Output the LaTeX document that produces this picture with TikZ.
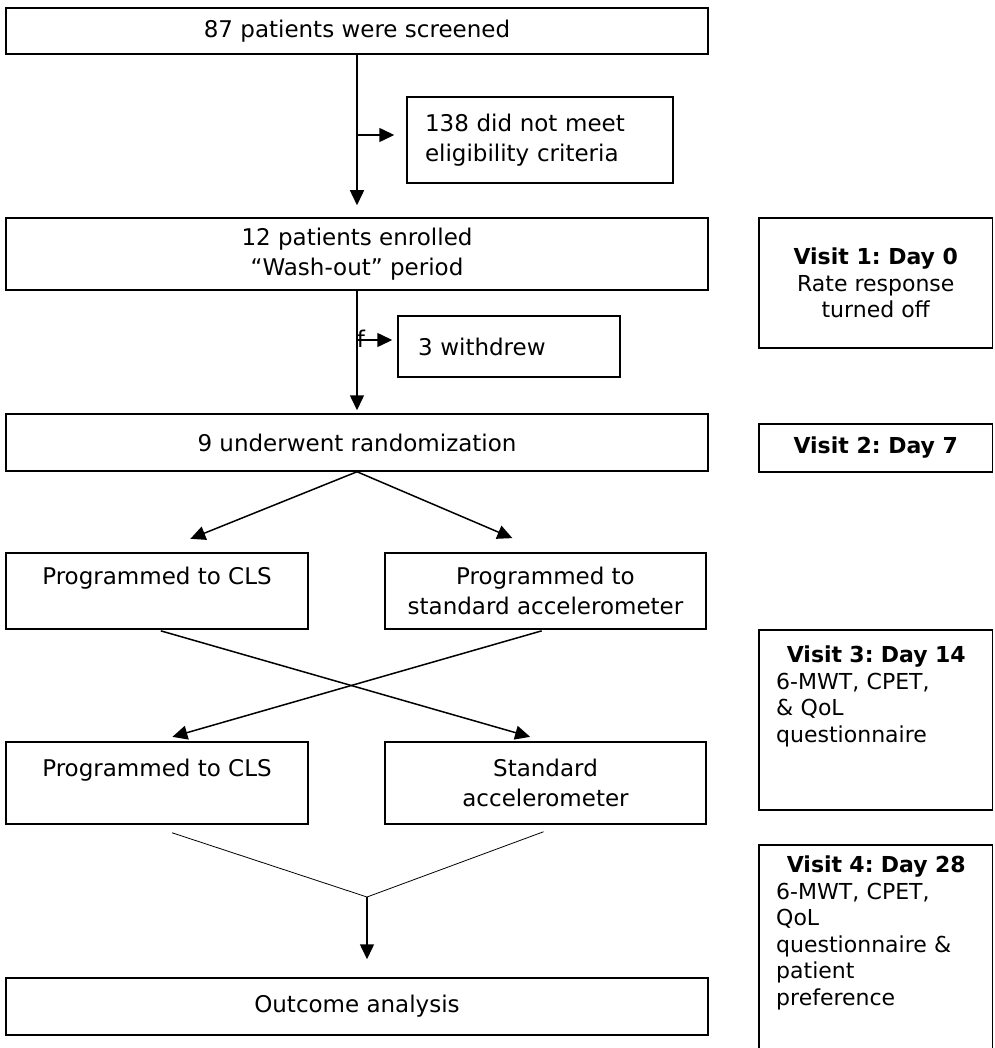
\documentclass[tikz,border=0pt]{standalone}
\usepackage{fontspec}
\setmainfont{DejaVu Sans}
\usetikzlibrary{arrows.meta,positioning}
\frenchspacing

\tikzset{
  box/.style={draw, line width=1.5pt, align=center, inner sep=0pt,
    font=\fontsize{23}{30}\selectfont},
  visitbox/.style={draw, line width=1.5pt, align=center, inner sep=0pt,
    minimum width=233.5pt, font=\fontsize{22}{26.5}\selectfont},
  visittext/.style={anchor=north west, inner sep=0pt, text width=200pt,
    align=left, font=\fontsize{22}{26.5}\selectfont},
  flow/.style={line width=1.5pt, -{Triangle[length=15pt,width=14pt]}},
  thinline/.style={line width=0.8pt},
}

\begin{document}
\begin{tikzpicture}[x=1pt, y=-1pt]
  \clip (0,0) rectangle (994,1048);

  % Main column
  \node[box, minimum width=702pt, minimum height=46pt] (screen) at (357,31) {87 patients were screened};
  \node[box, minimum height=86pt, align=left, text width=230pt, inner xsep=18pt] (excl) at (540,140) {138 did not meet\\eligibility criteria};
  \node[box, minimum width=702pt, minimum height=72pt] (enrol) at (357,254) {12 patients enrolled\\“Wash-out” period};
  \node[box, minimum height=61pt, align=left, text width=182pt, inner xsep=20pt] (withdrew) at (509,346.5) {3 withdrew};
  \node[box, minimum width=702pt, minimum height=57pt] (random) at (357,442.5) {9 underwent randomization};

  % Two arms
  \node[box, minimum width=302pt, minimum height=76pt] (cls1) at (157,591) {Programmed to CLS\\\mbox{}};
  \node[box, minimum width=321pt, minimum height=76pt] (std1) at (545.5,591) {Programmed to\\standard accelerometer};
  \node[box, minimum width=302pt, minimum height=82pt] (cls2) at (157,783) {Programmed to CLS\\\mbox{}};
  \node[box, minimum width=321pt, minimum height=82pt] (std2) at (545.5,783) {Standard\\accelerometer};

  \node[box, minimum width=702pt, minimum height=57pt] (outcome) at (357,1006.5) {Outcome analysis};

  % Visits
  \node[visitbox, minimum height=130pt] (v1) at (875.75,283) {\textbf{Visit 1: Day 0}\\Rate response\\turned off};
  \node[visitbox, minimum height=48pt] (v2) at (875.75,448) {\textbf{Visit 2: Day 7}};
  \node[visitbox, minimum height=180pt] (v3) at (875.75,720) {};
  \node[visittext] (v3txt) at (776,646) {{\centering\textbf{Visit 3: Day 14}\par}6-MWT, CPET,\\\& QoL\\questionnaire};
  \node[visitbox, minimum height=240pt] (v4) at (875.75,965) {};
  \node[visittext] (v4txt) at (776,856) {{\centering\textbf{Visit 4: Day 28}\par}6-MWT, CPET,\\QoL\\questionnaire \&\\patient\\preference};

  % Connectors
  \coordinate (exclfork) at (357,135);
  \coordinate (wdfork) at (357,340);
  \coordinate (merge) at (367,897);

  \draw[flow, shorten >=12pt] (screen) -- (enrol);
  \draw[flow, shorten >=12pt] (exclfork) -- (exclfork -| excl.west);
  \draw[flow, shorten >=3pt] (enrol) -- (random);
  \draw[flow, shorten >=5pt] (wdfork) -- (wdfork -| withdrew.west);
  \node[inner sep=0pt, font=\fontsize{23}{30}\selectfont] (stray) at (361,339) {f};

  \draw[flow, shorten >=36pt] (random.south) -- (cls1.north);
  \draw[flow, shorten >=36pt] (random.south) -- (std1.north);

  \draw[flow, shorten <=4pt, shorten >=16pt] (cls1.south) -- (std2.north);
  \draw[flow, shorten <=4pt, shorten >=16pt] (std1.south) -- (cls2.north);

  \draw[thinline] ([shift={(15,8)}]cls2.south) -- (merge) -- ([shift={(-2,7)}]std2.south);
  \draw[flow, shorten >=18pt] (merge) -- (merge |- outcome.north);
\end{tikzpicture}
\end{document}
